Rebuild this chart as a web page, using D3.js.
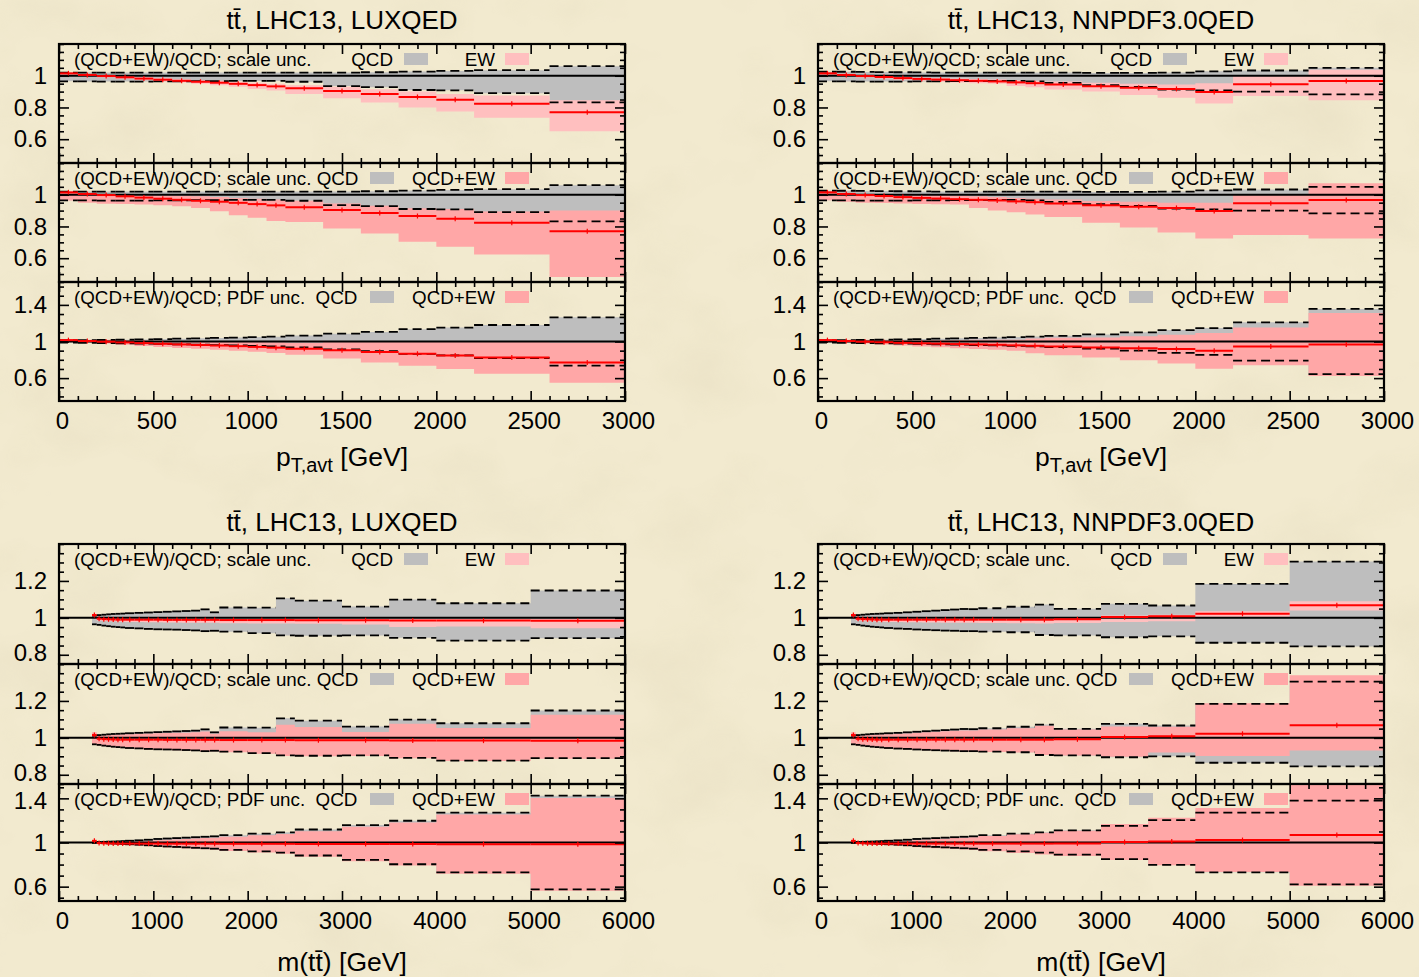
<!DOCTYPE html>
<html>
<head>
<meta charset="utf-8">
<script src="https://cdn.jsdelivr.net/npm/d3@7"></script>
<style>
  body { margin: 0; background: #f1e9cc; }
  svg { display: block; }
</style>
</head>
<body>
<svg id="chart" width="1419" height="977"></svg>
<script>
// ---------- binning ----------
const ptEdges = [0,100,200,300,400,500,600,700,800,900,1000,1100,1200,1400,1600,1800,2000,2200,2600,3000];
const mEdges  = [350,400,450,500,550,600,650,700,800,900,1000,1100,1200,1300,1400,1500,1600,1700,2000,2300,2500,3000,3500,4000,5000,6000];

// ---------- pT,avt, LUXQED ----------
const ptLuxRatio        = [1.015,1.005,0.998,0.990,0.982,0.975,0.968,0.962,0.956,0.949,0.941,0.933,0.921,0.904,0.885,0.866,0.848,0.824,0.770];
const ptLuxQcdScaleHi   = [1.020,1.020,1.020,1.020,1.020,1.020,1.020,1.020,1.020,1.020,1.020,1.020,1.020,1.020,1.022,1.026,1.030,1.035,1.060];
const ptLuxQcdScaleLo   = [0.965,0.964,0.963,0.963,0.963,0.964,0.965,0.966,0.966,0.967,0.967,0.967,0.962,0.935,0.928,0.910,0.908,0.890,0.832];
const ptLuxEwHi         = [1.020,1.010,1.003,0.996,0.990,0.984,0.978,0.972,0.968,0.962,0.956,0.950,0.940,0.930,0.915,0.900,0.885,0.875,0.846];
const ptLuxEwLo         = [1.008,0.998,0.990,0.982,0.972,0.964,0.958,0.950,0.940,0.930,0.917,0.907,0.885,0.858,0.832,0.800,0.775,0.735,0.650];
const ptLuxQcdEwScaleHi = [1.020,1.008,1.000,1.000,1.000,0.998,0.995,0.990,0.985,0.980,0.975,0.970,0.962,0.945,0.930,0.915,0.910,0.895,0.900];
const ptLuxQcdEwScaleLo = [0.963,0.950,0.943,0.942,0.938,0.933,0.928,0.917,0.896,0.870,0.855,0.834,0.828,0.787,0.755,0.704,0.672,0.623,0.482];
const ptLuxPdfQcd       = [0.012,0.014,0.017,0.020,0.023,0.027,0.031,0.035,0.039,0.043,0.048,0.053,0.065,0.085,0.105,0.135,0.152,0.180,0.264];
const ptLuxPdfQcdEw     = [0.012,0.015,0.020,0.025,0.030,0.034,0.038,0.042,0.046,0.050,0.054,0.058,0.065,0.090,0.115,0.130,0.148,0.176,0.220];

// ---------- pT,avt, NNPDF3.0QED ----------
const ptNnRatio         = [1.015,1.005,0.998,0.992,0.985,0.980,0.976,0.972,0.968,0.964,0.958,0.953,0.945,0.934,0.925,0.917,0.898,0.946,0.967];
const ptNnQcdScaleHi    = [1.025,1.025,1.024,1.023,1.022,1.021,1.020,1.020,1.020,1.020,1.020,1.020,1.020,1.018,1.018,1.020,1.028,1.033,1.050];
const ptNnQcdScaleLo    = [0.965,0.964,0.963,0.963,0.963,0.964,0.965,0.966,0.966,0.967,0.967,0.965,0.955,0.940,0.930,0.913,0.907,0.900,0.882];
const ptNnEwHi          = [1.020,1.010,1.003,0.998,0.992,0.988,0.985,0.982,0.980,0.977,0.972,0.968,0.963,0.955,0.950,0.945,0.953,1.000,1.038];
const ptNnEwLo          = [1.008,0.998,0.990,0.982,0.975,0.968,0.962,0.958,0.953,0.949,0.936,0.927,0.914,0.900,0.878,0.861,0.825,0.872,0.846];
const ptNnQcdEwScaleHi  = [1.020,1.010,1.000,1.000,1.000,1.000,0.998,0.995,0.990,0.985,0.980,0.975,0.970,0.960,0.955,0.950,0.950,1.000,1.073];
const ptNnQcdEwScaleLo  = [0.965,0.955,0.950,0.948,0.945,0.942,0.940,0.938,0.917,0.900,0.890,0.876,0.859,0.824,0.793,0.762,0.724,0.747,0.724];
const ptNnPdfQcd        = [0.012,0.014,0.017,0.020,0.023,0.027,0.031,0.035,0.039,0.043,0.048,0.054,0.062,0.077,0.100,0.125,0.147,0.209,0.356];
const ptNnPdfQcdEw      = [0.012,0.015,0.020,0.025,0.030,0.035,0.040,0.045,0.050,0.055,0.060,0.080,0.095,0.110,0.131,0.157,0.195,0.206,0.345];

// ---------- m(tt), LUXQED ----------
const mLuxRatio         = [1.015,0.995,0.993,0.992,0.991,0.990,0.990,0.990,0.990,0.990,0.990,0.989,0.989,0.989,0.989,0.989,0.989,0.988,0.988,0.988,0.987,0.987,0.986,0.985,0.984];
const mLuxQcdScaleHi    = [1.012,1.015,1.017,1.019,1.021,1.022,1.023,1.025,1.027,1.029,1.031,1.033,1.035,1.037,1.039,1.046,1.030,1.056,1.055,1.106,1.093,1.061,1.099,1.079,1.148];
const mLuxQcdScaleLo    = [0.965,0.962,0.958,0.955,0.952,0.950,0.948,0.945,0.943,0.940,0.938,0.937,0.936,0.934,0.932,0.928,0.930,0.925,0.917,0.905,0.903,0.905,0.892,0.877,0.890];
const mLuxEwHi          = [1.020,1.000,0.998,0.997,0.996,0.996,0.996,0.996,0.996,0.996,0.996,0.995,0.995,0.995,0.995,0.995,0.995,0.995,0.995,0.995,0.995,0.995,0.995,0.995,0.994];
const mLuxEwLo          = [1.005,0.985,0.983,0.982,0.981,0.980,0.979,0.978,0.977,0.976,0.976,0.975,0.975,0.974,0.974,0.973,0.973,0.971,0.970,0.969,0.968,0.964,0.950,0.953,0.944];
const mLuxQcdEwScaleHi  = [1.030,1.012,1.013,1.015,1.017,1.018,1.019,1.020,1.022,1.023,1.025,1.026,1.027,1.028,1.030,1.035,1.022,1.036,1.030,1.071,1.059,1.032,1.077,1.054,1.125];
const mLuxQcdEwScaleLo  = [0.962,0.959,0.955,0.952,0.949,0.947,0.945,0.942,0.940,0.937,0.935,0.934,0.933,0.931,0.929,0.925,0.927,0.922,0.914,0.902,0.900,0.902,0.889,0.874,0.887];
const mLuxPdfQcd        = [0.004,0.005,0.006,0.008,0.009,0.011,0.013,0.016,0.020,0.025,0.032,0.036,0.040,0.044,0.048,0.052,0.056,0.066,0.080,0.092,0.118,0.158,0.197,0.270,0.424];
const mLuxPdfQcdEw      = [0.004,0.005,0.006,0.008,0.009,0.011,0.013,0.016,0.020,0.025,0.031,0.035,0.039,0.043,0.047,0.051,0.055,0.064,0.078,0.090,0.116,0.156,0.195,0.268,0.420];

// ---------- m(tt), NNPDF3.0QED ----------
const mNnRatio          = [1.015,0.995,0.993,0.992,0.991,0.990,0.990,0.990,0.990,0.990,0.990,0.990,0.990,0.990,0.990,0.990,0.990,0.990,0.990,0.990,0.992,1.004,1.009,1.022,1.068];
const mNnQcdScaleHi     = [1.012,1.015,1.017,1.019,1.021,1.022,1.023,1.025,1.027,1.030,1.033,1.036,1.039,1.042,1.045,1.048,1.047,1.052,1.060,1.072,1.049,1.076,1.067,1.184,1.305];
const mNnQcdScaleLo     = [0.965,0.962,0.958,0.955,0.952,0.950,0.948,0.945,0.942,0.940,0.937,0.935,0.933,0.931,0.930,0.928,0.928,0.925,0.922,0.907,0.905,0.895,0.900,0.865,0.845];
const mNnEwHi           = [1.020,1.000,0.998,0.997,0.996,0.996,0.996,0.996,0.996,0.996,0.996,0.996,0.996,0.996,0.996,0.996,0.996,0.996,0.997,0.998,1.000,1.013,1.017,1.036,1.090];
const mNnEwLo           = [1.005,0.985,0.983,0.982,0.981,0.980,0.979,0.978,0.977,0.976,0.976,0.975,0.975,0.974,0.974,0.973,0.973,0.972,0.971,0.970,0.972,0.977,0.982,1.004,1.040];
const mNnQcdEwScaleHi   = [1.030,1.012,1.013,1.015,1.017,1.018,1.019,1.020,1.022,1.024,1.027,1.030,1.033,1.036,1.038,1.040,1.040,1.045,1.052,1.065,1.045,1.062,1.060,1.188,1.339];
const mNnQcdEwScaleLo   = [0.963,0.958,0.955,0.952,0.950,0.948,0.946,0.943,0.940,0.938,0.935,0.933,0.931,0.929,0.928,0.926,0.926,0.924,0.920,0.907,0.905,0.898,0.920,0.902,0.932];
const mNnPdfQcd         = [0.004,0.005,0.006,0.008,0.009,0.011,0.013,0.016,0.020,0.025,0.032,0.036,0.040,0.044,0.048,0.052,0.056,0.066,0.080,0.092,0.110,0.150,0.203,0.270,0.379];
const mNnPdfQcdEw       = [0.004,0.005,0.006,0.008,0.009,0.011,0.013,0.016,0.020,0.025,0.032,0.037,0.041,0.045,0.050,0.054,0.058,0.070,0.085,0.098,0.115,0.163,0.215,0.290,0.460];

// ---------- texts ----------
const titles = ["t\u0074\u0304, LHC13, LUXQED", "t\u0074\u0304, LHC13, NNPDF3.0QED"];
const legendLead = ["(QCD+EW)/QCD; scale unc.", "(QCD+EW)/QCD; scale unc. QCD", "(QCD+EW)/QCD; PDF unc.\u00a0 QCD"];
const legendSecond = ["EW", "QCD+EW", "QCD+EW"];

// ---------- style ----------
const FONT = '"Liberation Sans", Arial, Helvetica, sans-serif';
const GRAY = "#bebebe";
const PINK_EW = "#ffbfbf";
const PINK = "#ffa7a7";
const RED = "#ff0000";

const svg = d3.select("#chart").attr("font-family", FONT);

// paper-like background
const defs = svg.append("defs");
const paper = defs.append("filter").attr("id", "paper").attr("x", 0).attr("y", 0).attr("width", 1).attr("height", 1);
paper.append("feTurbulence").attr("type", "fractalNoise").attr("baseFrequency", "0.008 0.011").attr("numOctaves", 4).attr("seed", 7);
paper.append("feColorMatrix").attr("type", "matrix")
  .attr("values", "0 0 0 0 0.62  0 0 0 0 0.55  0 0 0 0 0.38  0.9 0 0 0 -0.42");
svg.append("rect").attr("width", 1419).attr("height", 977).attr("fill", "#f2eacf");
svg.append("rect").attr("width", 1419).attr("height", 977).attr("filter", "url(#paper)").attr("opacity", 0.45);

const PW = 566;
const rows = [
  { subs: [[44,163],[163,282],[282,401]], titleY: 29, labelY: 466 },
  { subs: [[544,664],[664,784],[784,901]], titleY: 531, labelY: 971 }
];

const ptYDomains = [[0.45,1.2],[0.45,1.2],[0.35,1.65]];
const mYDomains  = [[0.75,1.4],[0.75,1.4],[0.47,1.53]];
const ptYLabels = [[0.6,0.8,1],[0.6,0.8,1],[0.6,1,1.4]];
const mYLabels  = [[0.8,1,1.2],[0.8,1,1.2],[0.6,1,1.4]];
const yMinorStep = [0.05, 0.05, 0.1];

const panels = [
  { left: 59,  row: 0, title: titles[0], kind: "pt", edges: ptEdges,
    ratio: ptLuxRatio, qHi: ptLuxQcdScaleHi, qLo: ptLuxQcdScaleLo, ewHi: ptLuxEwHi, ewLo: ptLuxEwLo,
    qeHi: ptLuxQcdEwScaleHi, qeLo: ptLuxQcdEwScaleLo, pdfQ: ptLuxPdfQcd, pdfQe: ptLuxPdfQcdEw },
  { left: 818, row: 0, title: titles[1], kind: "pt", edges: ptEdges,
    ratio: ptNnRatio, qHi: ptNnQcdScaleHi, qLo: ptNnQcdScaleLo, ewHi: ptNnEwHi, ewLo: ptNnEwLo,
    qeHi: ptNnQcdEwScaleHi, qeLo: ptNnQcdEwScaleLo, pdfQ: ptNnPdfQcd, pdfQe: ptNnPdfQcdEw },
  { left: 59,  row: 1, title: titles[0], kind: "m", edges: mEdges,
    ratio: mLuxRatio, qHi: mLuxQcdScaleHi, qLo: mLuxQcdScaleLo, ewHi: mLuxEwHi, ewLo: mLuxEwLo,
    qeHi: mLuxQcdEwScaleHi, qeLo: mLuxQcdEwScaleLo, pdfQ: mLuxPdfQcd, pdfQe: mLuxPdfQcdEw },
  { left: 818, row: 1, title: titles[1], kind: "m", edges: mEdges,
    ratio: mNnRatio, qHi: mNnQcdScaleHi, qLo: mNnQcdScaleLo, ewHi: mNnEwHi, ewLo: mNnEwLo,
    qeHi: mNnQcdEwScaleHi, qeLo: mNnQcdEwScaleLo, pdfQ: mNnPdfQcd, pdfQe: mNnPdfQcdEw }
];

let clipCount = 0;

panels.forEach(drawPanel);

function stepArea(x, y, bins, lo, hi) {
  const pts = [];
  bins.forEach(b => {
    pts.push({ x: b.x0, lo: lo[b.i], hi: hi[b.i] });
    pts.push({ x: b.x1, lo: lo[b.i], hi: hi[b.i] });
  });
  return d3.area().x(d => x(d.x)).y0(d => y(d.lo)).y1(d => y(d.hi))(pts);
}

function drawPanel(p) {
  const row = rows[p.row];
  const isPt = p.kind === "pt";
  const xMax = isPt ? 3000 : 6000;
  const xStep = isPt ? 500 : 1000;
  const xMinor = isPt ? 100 : 200;
  const x = d3.scaleLinear().domain([0, xMax]).range([p.left, p.left + PW]);
  const bins = d3.range(p.edges.length - 1).map(i => ({ i, x0: p.edges[i], x1: p.edges[i + 1] }));
  const xMajorVals = d3.range(0, xMax + 1, xStep);
  const xMinorVals = d3.range(0, xMax + 1, xMinor).filter(v => v % xStep !== 0);
  const yDomains = isPt ? ptYDomains : mYDomains;
  const yLabels = isPt ? ptYLabels : mYLabels;

  // per-sub-panel band definitions
  const pdfQHi = p.pdfQ.map(e => 1 + e), pdfQLo = p.pdfQ.map(e => 1 - e);
  const pdfQeHi = p.pdfQe.map((e, i) => p.ratio[i] + e), pdfQeLo = p.pdfQe.map((e, i) => p.ratio[i] - e);
  const subDefs = [
    { grayHi: p.qHi, grayLo: p.qLo, pinkHi: p.ewHi, pinkLo: p.ewLo, pink: PINK_EW },
    { grayHi: p.qHi, grayLo: p.qLo, pinkHi: p.qeHi, pinkLo: p.qeLo, pink: PINK },
    { grayHi: pdfQHi, grayLo: pdfQLo, pinkHi: pdfQeHi, pinkLo: pdfQeLo, pink: PINK }
  ];

  subDefs.forEach((s, k) => {
    const [top, bottom] = row.subs[k];
    const y = d3.scaleLinear().domain(yDomains[k]).range([bottom, top]);
    const g = svg.append("g");
    const clipId = "clip" + (clipCount++);
    defs.append("clipPath").attr("id", clipId).append("rect")
      .attr("x", p.left).attr("y", top).attr("width", PW).attr("height", bottom - top);
    const inner = g.append("g").attr("clip-path", `url(#${clipId})`);

    // QCD band
    inner.append("path").attr("d", stepArea(x, y, bins, s.grayLo, s.grayHi)).attr("fill", GRAY);
    // EW / QCD+EW band
    inner.append("path").attr("d", stepArea(x, y, bins, s.pinkLo, s.pinkHi)).attr("fill", s.pink);

    // dashed QCD band edges
    [s.grayHi, s.grayLo].forEach(arr => {
      inner.append("g").selectAll("line").data(bins).join("line")
        .attr("x1", b => x(b.x0)).attr("x2", b => x(b.x1))
        .attr("y1", b => y(arr[b.i])).attr("y2", b => y(arr[b.i]))
        .attr("stroke", "#000").attr("stroke-width", 1.8).attr("stroke-dasharray", "9,5");
    });

    // QCD reference at 1
    inner.append("line").attr("x1", p.left).attr("x2", p.left + PW)
      .attr("y1", y(1)).attr("y2", y(1)).attr("stroke", "#000").attr("stroke-width", 2);

    // (QCD+EW)/QCD central
    inner.append("g").selectAll("line").data(bins).join("line")
      .attr("x1", b => x(b.x0)).attr("x2", b => x(b.x1))
      .attr("y1", b => y(p.ratio[b.i])).attr("y2", b => y(p.ratio[b.i]))
      .attr("stroke", RED).attr("stroke-width", 2);
    inner.append("g").selectAll("line").data(bins).join("line")
      .attr("x1", b => x((b.x0 + b.x1) / 2)).attr("x2", b => x((b.x0 + b.x1) / 2))
      .attr("y1", b => y(p.ratio[b.i]) - 2.5).attr("y2", b => y(p.ratio[b.i]) + 2.5)
      .attr("stroke", RED).attr("stroke-width", 1.2);

    // ticks on all four sides, pointing inward
    const yMinorVals = d3.range(Math.ceil(yDomains[k][0] / yMinorStep[k] - 1e-9), Math.floor(yDomains[k][1] / yMinorStep[k] + 1e-9) + 1)
      .map(n => +(n * yMinorStep[k]).toFixed(3));
    const yMajorVals = yLabels[k];
    const yMinorOnly = yMinorVals.filter(v => !yMajorVals.some(m => Math.abs(m - v) < 1e-6));

    const axes = g.append("g").attr("class", "axes");
    const styleAxis = sel => {
      sel.select(".domain").remove();
      sel.selectAll("line").attr("stroke", "#000").attr("stroke-width", 1.6);
      sel.selectAll("text").attr("font-family", FONT).attr("font-size", 24).attr("fill", "#000");
    };
    // bottom
    const bottomAxis = axes.append("g").attr("transform", `translate(0,${bottom})`)
      .call(d3.axisBottom(x).tickValues(xMajorVals).tickSize(-10).tickFormat(k === 2 ? d3.format("d") : "").tickPadding(11))
      .call(styleAxis);
    bottomAxis.selectAll("text").attr("x", 3);
    axes.append("g").attr("transform", `translate(0,${bottom})`)
      .call(d3.axisBottom(x).tickValues(xMinorVals).tickSize(-5).tickFormat(""))
      .call(styleAxis);
    // top
    axes.append("g").attr("transform", `translate(0,${top})`)
      .call(d3.axisTop(x).tickValues(xMajorVals).tickSize(-10).tickFormat(""))
      .call(styleAxis);
    axes.append("g").attr("transform", `translate(0,${top})`)
      .call(d3.axisTop(x).tickValues(xMinorVals).tickSize(-5).tickFormat(""))
      .call(styleAxis);
    // left
    const leftAxis = axes.append("g").attr("transform", `translate(${p.left},0)`)
      .call(d3.axisLeft(y).tickValues(yMajorVals).tickSize(-10).tickPadding(12).tickFormat(v => String(+v.toFixed(1))))
      .call(styleAxis);
    // labels sitting close to a sub-panel edge are nudged slightly away from the neighbouring panel's labels
    leftAxis.selectAll("text").attr("dy", v => {
      const py = y(v);
      if (bottom - py < 14) return "0.23em";
      if (py - top < 18) return "0.41em";
      return "0.32em";
    });
    axes.append("g").attr("transform", `translate(${p.left},0)`)
      .call(d3.axisLeft(y).tickValues(yMinorOnly).tickSize(-5).tickFormat(""))
      .call(styleAxis);
    // right
    axes.append("g").attr("transform", `translate(${p.left + PW},0)`)
      .call(d3.axisRight(y).tickValues(yMajorVals).tickSize(-10).tickFormat(""))
      .call(styleAxis);
    axes.append("g").attr("transform", `translate(${p.left + PW},0)`)
      .call(d3.axisRight(y).tickValues(yMinorOnly).tickSize(-5).tickFormat(""))
      .call(styleAxis);

    // frame
    g.append("rect").attr("x", p.left).attr("y", top).attr("width", PW).attr("height", bottom - top)
      .attr("fill", "none").attr("stroke", "#000").attr("stroke-width", 2.2);

    // key
    const ky = top + 15;
    const key = g.append("g").attr("font-size", 18.8).attr("fill", "#000");
    const lx = p.left;
    if (k === 0) {
      key.append("text").attr("x", lx + 15).attr("y", ky).attr("dy", "0.35em").text(legendLead[0]);
      key.append("text").attr("x", lx + 334).attr("y", ky).attr("dy", "0.35em").attr("text-anchor", "end").text("QCD");
      key.append("rect").attr("x", lx + 345).attr("y", ky - 6).attr("width", 24).attr("height", 12).attr("fill", GRAY);
    } else {
      key.append("text").attr("x", lx + 15).attr("y", ky).attr("dy", "0.35em").text(legendLead[k]);
      key.append("rect").attr("x", lx + 311).attr("y", ky - 6).attr("width", 24).attr("height", 12).attr("fill", GRAY);
    }
    key.append("text").attr("x", lx + 436).attr("y", ky).attr("dy", "0.35em").attr("text-anchor", "end").text(legendSecond[k]);
    key.append("rect").attr("x", lx + 446).attr("y", ky - 6).attr("width", 24).attr("height", 12).attr("fill", s.pink);
  });

  // title
  svg.append("text").attr("x", p.left + PW / 2).attr("y", row.titleY).attr("text-anchor", "middle")
    .attr("font-size", 26).text(p.title);

  // x-axis label
  const xl = svg.append("text").attr("x", p.left + PW / 2).attr("y", row.labelY).attr("text-anchor", "middle")
    .attr("font-size", 26.5);
  if (isPt) {
    xl.append("tspan").text("p");
    xl.append("tspan").attr("font-size", 20).attr("dy", 6).text("T,avt");
    xl.append("tspan").attr("dy", -6).text(" [GeV]");
  } else {
    xl.text("m(t\u0074\u0304) [GeV]");
  }
}
</script>
</body>
</html>
